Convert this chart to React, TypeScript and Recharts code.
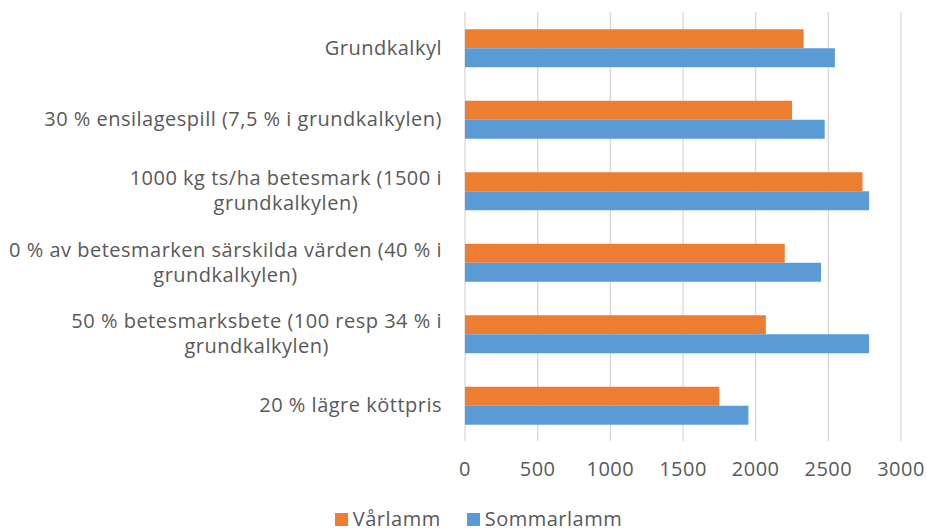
import { BarChart, Bar, XAxis, YAxis, CartesianGrid, Legend } from "recharts";

const categories = [
  "Grundkalkyl",
  "30 % ensilagespill (7,5 % i grundkalkylen)",
  "1000 kg ts/ha betesmark (1500 i\ngrundkalkylen)",
  "0 % av betesmarken särskilda värden (40 % i\ngrundkalkylen)",
  "50 % betesmarksbete (100 resp 34 % i\ngrundkalkylen)",
  "20 % lägre köttpris",
];
const varlamm = [2330, 2250, 2735, 2200, 2070, 1750];
const sommarlamm = [2545, 2475, 2780, 2450, 2780, 1950];
const xTicks = [0, 500, 1000, 1500, 2000, 2500, 3000];

const data = categories.map((name, i) => ({
  name,
  varlamm: varlamm[i],
  sommarlamm: sommarlamm[i],
}));

const FONT = "Open Sans";
const FONT_SIZE = 20;
const SPACING = 0.5;
const TEXT = "#595959";
const ORANGE = "#ED7D31";
const BLUE = "#5B9BD5";

let ctx: CanvasRenderingContext2D | null = null;
function measure(text: string) {
  if (!ctx) ctx = document.createElement("canvas").getContext("2d");
  if (!ctx) return text.length * FONT_SIZE * 0.5;
  ctx.font = `${FONT_SIZE}px "${FONT}"`;
  return ctx.measureText(text).width + SPACING * text.length;
}

// category labels: block right-aligned, lines centred within it (like Excel)
// eslint-disable-next-line @typescript-eslint/no-explicit-any
function CategoryTick({ x, y, payload }: any) {
  const lines: string[] = String(payload.value).split("\n");
  const w = Math.max(...lines.map(measure));
  const cx = x - w / 2;
  const lh = 25;
  const first = -((lines.length - 1) * lh) / 2;
  return (
    <text
      x={cx}
      y={y}
      textAnchor="middle"
      fill={TEXT}
      fontSize={FONT_SIZE}
      fontFamily={FONT}
      letterSpacing={SPACING}
    >
      {lines.map((l, i) => (
        <tspan key={i} x={cx} dy={i === 0 ? first + 7 : lh}>
          {l}
        </tspan>
      ))}
    </text>
  );
}

function LegendContent() {
  const items = [
    { label: "Vårlamm", color: ORANGE },
    { label: "Sommarlamm", color: BLUE },
  ];
  return (
    <div
      style={{
        display: "flex",
        justifyContent: "center",
        alignItems: "center",
        height: 26,
        lineHeight: "26px",
        paddingLeft: 30,
        gap: 26,
        fontFamily: FONT,
        fontSize: FONT_SIZE,
        letterSpacing: SPACING,
        color: TEXT,
      }}
    >
      {items.map((it) => (
        <div key={it.label} style={{ display: "flex", alignItems: "center", gap: 5 }}>
          <span style={{ width: 13, height: 13, background: it.color, display: "inline-block" }} />
          <span>{it.label}</span>
        </div>
      ))}
    </div>
  );
}

export default function App() {
  return (
    <div style={{ position: "absolute", left: 0, top: 0, width: 927, height: 532, background: "#fff" }}>
      <BarChart
        width={927}
        height={532}
        data={data}
        layout="vertical"
        barCategoryGap="24%"
        barGap={0}
        margin={{ top: 12, right: 26, left: 0, bottom: 28 }}
      >
        <CartesianGrid horizontal={false} stroke="#D9D9D9" strokeWidth={1.3} />
        <XAxis
          type="number"
          domain={[0, 3000]}
          ticks={xTicks}
          axisLine={false}
          tickLine={false}
          tickMargin={15}
          height={37}
          tick={{ fill: TEXT, fontSize: FONT_SIZE, fontFamily: FONT, letterSpacing: SPACING }}
        />
        <YAxis
          type="category"
          dataKey="name"
          width={465}
          axisLine={false}
          tickLine={false}
          tickSize={0}
          tickMargin={23}
          interval={0}
          tick={<CategoryTick />}
        />
        <Legend
          content={<LegendContent />}
          wrapperStyle={{ top: 506, bottom: "auto", left: 0, width: 927, height: 26 }}
        />
        <Bar dataKey="varlamm" name="Vårlamm" fill={ORANGE} isAnimationActive={false} />
        <Bar dataKey="sommarlamm" name="Sommarlamm" fill={BLUE} isAnimationActive={false} />
      </BarChart>
    </div>
  );
}
